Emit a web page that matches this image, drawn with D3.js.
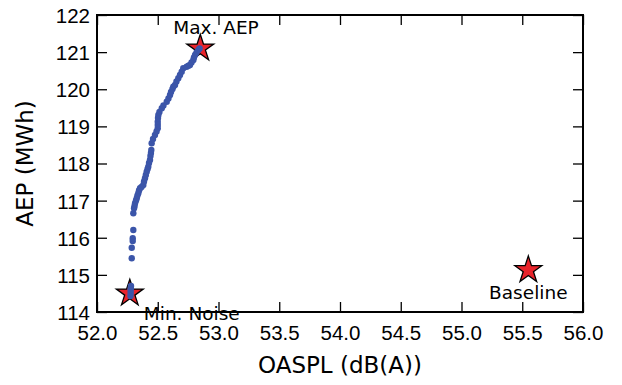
<!DOCTYPE html>
<html>
<head>
<meta charset="utf-8">
<script src="https://cdn.jsdelivr.net/npm/d3@7"></script>
<style>
    body { margin: 0; background: #fff; }
    svg { display: block; font-family: "DejaVu Sans", sans-serif; }
</style>
</head>
<body>
<svg id="drawing_region"></svg>
<script>
// tick values
var xTicks = [52.0, 52.5, 53.0, 53.5, 54.0, 54.5, 55.0, 55.5, 56.0];
var yTicks = [114, 115, 116, 117, 118, 119, 120, 121, 122];

// pareto front (OASPL, AEP)
var paretoX = [52.276, 52.277, 52.277, 52.278, 52.280, 52.286, 52.286, 52.294, 52.294, 52.299,
    52.299, 52.305, 52.309, 52.313, 52.321, 52.327, 52.333, 52.340, 52.346, 52.354,
    52.366, 52.381, 52.387, 52.395, 52.402, 52.409, 52.416, 52.422, 52.428, 52.436,
    52.440, 52.444, 52.447, 52.450, 52.461, 52.477, 52.490, 52.500, 52.500, 52.500,
    52.502, 52.505, 52.514, 52.533, 52.547, 52.574, 52.588, 52.601, 52.609, 52.621,
    52.628, 52.642, 52.654, 52.669, 52.683, 52.697, 52.710, 52.738, 52.753, 52.765,
    52.778, 52.793, 52.798, 52.807, 52.819, 52.834, 52.844];
var paretoY = [114.431, 114.512, 114.593, 114.646, 114.700, 115.446, 115.732, 115.912, 115.985, 116.209,
    116.659, 116.793, 116.855, 116.928, 117.003, 117.063, 117.138, 117.197, 117.273, 117.332,
    117.367, 117.421, 117.515, 117.601, 117.690, 117.779, 117.852, 117.914, 118.013, 118.094,
    118.202, 118.283, 118.364, 118.544, 118.660, 118.768, 118.862, 118.948, 119.037, 119.126,
    119.226, 119.306, 119.387, 119.487, 119.562, 119.665, 119.751, 119.845, 119.926, 120.007,
    120.069, 120.114, 120.209, 120.295, 120.384, 120.473, 120.564, 120.607, 120.632, 120.653,
    120.721, 120.788, 120.855, 120.923, 120.990, 121.057, 121.098];

// highlighted designs
var specialNames = ['Max. AEP', 'Min. Noise', 'Baseline'];
var specialX = [52.85, 52.27, 55.55];
var specialY = [121.1, 114.5, 115.13];

var width = 622;
var height = 385;
var margin = { top: 15, right: 39, bottom: 73, left: 97 };
var innerW = width - margin.left - margin.right;
var innerH = height - margin.top - margin.bottom;

var svg = d3.select('#drawing_region')
    .attr('width', width)
    .attr('height', height);

var g = svg.append('g')
    .attr('transform', `translate(${margin.left}, ${margin.top})`);

var x = d3.scaleLinear().domain([52, 56]).range([0, innerW]);
var y = d3.scaleLinear().domain([114, 122]).range([innerH, 0]);

// axes (ticks inward, labels outside)
var tickLen = 10;
function styleAxis(sel) {
    sel.select('.domain').remove();
    sel.selectAll('.tick line').attr('stroke', '#000').attr('stroke-width', 1.3);
    sel.selectAll('.tick text').attr('fill', '#000').style('font-size', '20.5px');
}

var xAxis = g.append('g')
    .attr('transform', `translate(0, ${innerH})`)
    .call(d3.axisBottom(x).tickValues(xTicks).tickFormat(d3.format('.1f'))
        .tickSizeInner(-tickLen).tickSizeOuter(0).tickPadding(0));
styleAxis(xAxis);
xAxis.selectAll('.tick text').attr('y', 28).attr('dy', 0);

var xAxisTop = g.append('g')
    .call(d3.axisTop(x).tickValues(xTicks).tickFormat('')
        .tickSizeInner(-tickLen).tickSizeOuter(0));
styleAxis(xAxisTop);

var yAxis = g.append('g')
    .call(d3.axisLeft(y).tickValues(yTicks).tickFormat(d3.format('d'))
        .tickSizeInner(-tickLen).tickSizeOuter(0).tickPadding(0));
styleAxis(yAxis);
yAxis.selectAll('.tick text').attr('x', -7).attr('dy', '0.36em');

var yAxisRight = g.append('g')
    .attr('transform', `translate(${innerW}, 0)`)
    .call(d3.axisRight(y).tickValues(yTicks).tickFormat('')
        .tickSizeInner(-tickLen).tickSizeOuter(0));
styleAxis(yAxisRight);

// frame
g.append('rect')
    .attr('x', 0).attr('y', 0)
    .attr('width', innerW).attr('height', innerH)
    .attr('fill', 'none')
    .attr('stroke', '#000')
    .attr('stroke-width', 2);

// stars
var star = d3.symbol().type(d3.symbolStar).size(225);
g.selectAll('.star')
    .data(specialNames)
    .enter()
    .append('path')
    .attr('class', 'star')
    .attr('transform', (d, i) => `translate(${x(specialX[i])}, ${y(specialY[i])})`)
    .attr('d', star)
    .attr('fill', '#e8232a')
    .attr('stroke', '#000')
    .attr('stroke-width', 1.3);

// pareto points
g.selectAll('.pt')
    .data(paretoX)
    .enter()
    .append('circle')
    .attr('class', 'pt')
    .attr('cx', d => x(d))
    .attr('cy', (d, i) => y(paretoY[i]))
    .attr('r', 3.2)
    .attr('fill', '#3b55a9');

// star labels
var labelOffsets = [
    { dx: -27, dy: -14, anchor: 'start' },
    { dx: 14, dy: 26.5, anchor: 'start' },
    { dx: 0, dy: 28.5, anchor: 'middle' }
];
g.selectAll('.lbl')
    .data(specialNames)
    .enter()
    .append('text')
    .attr('class', 'lbl')
    .attr('x', (d, i) => x(specialX[i]) + labelOffsets[i].dx)
    .attr('y', (d, i) => y(specialY[i]) + labelOffsets[i].dy)
    .attr('text-anchor', (d, i) => labelOffsets[i].anchor)
    .style('font-size', '18.5px')
    .attr('fill', '#000')
    .text(d => d);

// axis titles
svg.append('text')
    .attr('x', margin.left + innerW / 2)
    .attr('y', 373)
    .attr('text-anchor', 'middle')
    .style('font-size', '23px')
    .text('OASPL (dB(A))');

svg.append('text')
    .attr('transform', `translate(33, ${margin.top + innerH / 2}) rotate(-90)`)
    .attr('text-anchor', 'middle')
    .style('font-size', '23px')
    .text('AEP (MWh)');
</script>
</body>
</html>
